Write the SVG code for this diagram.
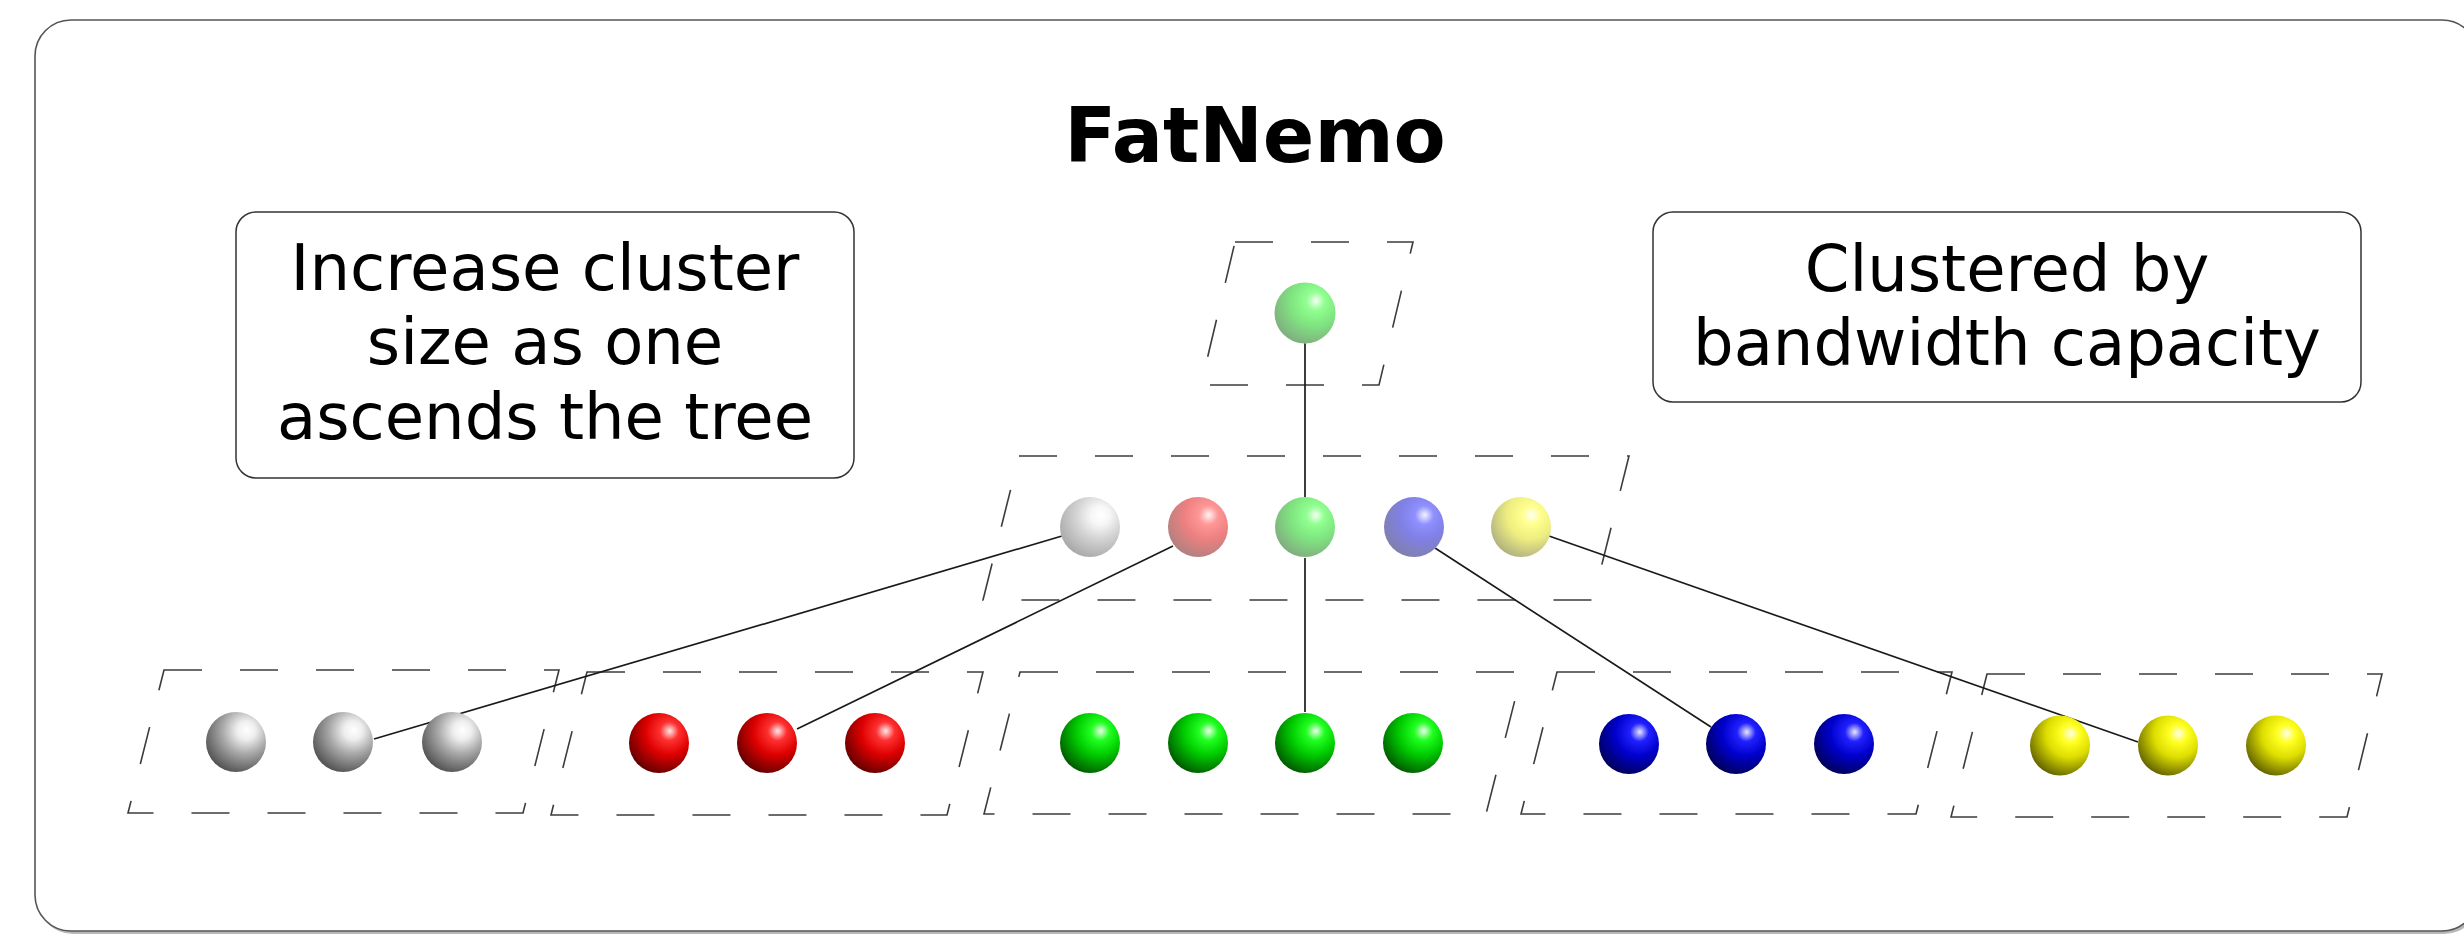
<svg xmlns="http://www.w3.org/2000/svg" width="2464" height="934" viewBox="0 0 2464 934">
  <style>
    .frame { fill: none; stroke: #3c3c3c; stroke-width: 1.6; stroke-dasharray: 38 38; }
    .link { fill: none; stroke: #1a1a1a; stroke-width: 1.7; }
    .box { fill: #fff; stroke: #333; stroke-width: 1.5; }
    .label { font-family: "DejaVu Sans", "Liberation Sans", sans-serif; font-size: 64px; fill: #000; text-anchor: middle; }
    .title { font-family: "DejaVu Sans", "Liberation Sans", sans-serif; font-size: 76px; font-weight: bold; fill: #000; text-anchor: middle; }
    .back { fill: #fff; }
    .soft { opacity: 0.5; }
  </style>
  <defs>
    <radialGradient id="gGray" cx="0.64" cy="0.32" r="0.78" fx="0.68" fy="0.3">
      <stop offset="0" stop-color="#ffffff"/>
      <stop offset="0.2" stop-color="#eeeeee"/>
      <stop offset="0.5" stop-color="#a8a8a8"/>
      <stop offset="1" stop-color="#444444"/>
    </radialGradient>
    <radialGradient id="gRed" cx="0.64" cy="0.32" r="0.78" fx="0.68" fy="0.3">
      <stop offset="0" stop-color="#ffe8e8"/>
      <stop offset="0.2" stop-color="#ff3030"/>
      <stop offset="0.5" stop-color="#dd0000"/>
      <stop offset="1" stop-color="#500000"/>
    </radialGradient>
    <radialGradient id="gGreen" cx="0.64" cy="0.32" r="0.78" fx="0.68" fy="0.3">
      <stop offset="0" stop-color="#e8ffe8"/>
      <stop offset="0.2" stop-color="#20ff20"/>
      <stop offset="0.5" stop-color="#00cc00"/>
      <stop offset="1" stop-color="#004800"/>
    </radialGradient>
    <radialGradient id="gBlue" cx="0.64" cy="0.32" r="0.78" fx="0.68" fy="0.3">
      <stop offset="0" stop-color="#e8e8ff"/>
      <stop offset="0.2" stop-color="#2020ff"/>
      <stop offset="0.5" stop-color="#0000cc"/>
      <stop offset="1" stop-color="#000048"/>
    </radialGradient>
    <radialGradient id="gYellow" cx="0.64" cy="0.32" r="0.78" fx="0.68" fy="0.3">
      <stop offset="0" stop-color="#ffffe8"/>
      <stop offset="0.2" stop-color="#ffff20"/>
      <stop offset="0.5" stop-color="#dddd00"/>
      <stop offset="1" stop-color="#505000"/>
    </radialGradient>
  </defs>

  <!-- outer panel with drop shadow -->
  <rect x="37" y="23" width="2443" height="911" rx="36" fill="#b8b8b8"/>
  <rect x="35" y="20" width="2443" height="911" rx="36" fill="#fff" stroke="#555" stroke-width="1.6"/>

  <g id="title">
    <text class="title" x="1255" y="162">FatNemo</text>
  </g>

  <!-- note boxes -->
  <g id="note-left">
    <rect class="box" x="236" y="212" width="618" height="266" rx="20"/>
    <text class="label" x="545" y="290">Increase cluster</text>
    <text class="label" x="545" y="364">size as one</text>
    <text class="label" x="545" y="439">ascends the tree</text>
  </g>
  <g id="note-right">
    <rect class="box" x="1653" y="212" width="708" height="190" rx="20"/>
    <text class="label" x="2007" y="291">Clustered by</text>
    <text class="label" x="2007" y="365">bandwidth capacity</text>
  </g>

  <!-- dashed cluster outlines -->
  <g id="clusters">
    <path id="cluster-root" class="frame" d="M1235,242 L1413,242 L1379,385 L1201,385 Z"/>
    <path id="cluster-mid" class="frame" d="M1019,456 L1629,456 L1593,600 L983,600 Z"/>
    <path id="cluster-gray" class="frame" d="M164,670 L559,670 L523,813 L128,813 Z"/>
    <path id="cluster-red" class="frame" d="M587,672 L983,672 L947,815 L551,815 Z"/>
    <path id="cluster-green" class="frame" d="M1020,672 L1522,672 L1486,814 L984,814 Z"/>
    <path id="cluster-blue" class="frame" d="M1557,672 L1952,672 L1916,814 L1521,814 Z"/>
    <path id="cluster-yellow" class="frame" d="M1987,674 L2382,674 L2347,817 L1951,817 Z"/>
  </g>

  <!-- tree links -->
  <g id="connectors">
    <line class="link" x1="1305" y1="343" x2="1305" y2="497"/>
    <line class="link" x1="1305" y1="558" x2="1305" y2="712"/>
    <line class="link" x1="1062" y1="536" x2="374" y2="739"/>
    <line class="link" x1="1173" y1="546" x2="797" y2="729"/>
    <line class="link" x1="1435" y1="548" x2="1711" y2="727"/>
    <line class="link" x1="1549" y1="536" x2="2138" y2="742"/>
  </g>

  <!-- root -->
  <g id="root">
    <circle class="back" cx="1305" cy="313" r="30.5"/>
    <circle class="soft" cx="1305" cy="313" r="30.5" fill="url(#gGreen)"/>
  </g>

  <!-- middle level -->
  <g id="mid-gray">
    <circle class="back" cx="1090" cy="527" r="30"/>
    <circle class="soft" cx="1090" cy="527" r="30" fill="url(#gGray)"/>
  </g>
  <g id="mid-red">
    <circle class="back" cx="1198" cy="527" r="30"/>
    <circle class="soft" cx="1198" cy="527" r="30" fill="url(#gRed)"/>
  </g>
  <g id="mid-green">
    <circle class="back" cx="1305" cy="527" r="30"/>
    <circle class="soft" cx="1305" cy="527" r="30" fill="url(#gGreen)"/>
  </g>
  <g id="mid-blue">
    <circle class="back" cx="1414" cy="527" r="30"/>
    <circle class="soft" cx="1414" cy="527" r="30" fill="url(#gBlue)"/>
  </g>
  <g id="mid-yellow">
    <circle class="back" cx="1521" cy="527" r="30"/>
    <circle class="soft" cx="1521" cy="527" r="30" fill="url(#gYellow)"/>
  </g>

  <!-- leaves -->
  <g id="leaf-gray-1"><circle cx="236" cy="742" r="30" fill="url(#gGray)"/></g>
  <g id="leaf-gray-2"><circle cx="343" cy="742" r="30" fill="url(#gGray)"/></g>
  <g id="leaf-gray-3"><circle cx="452" cy="742" r="30" fill="url(#gGray)"/></g>

  <g id="leaf-red-1"><circle cx="659" cy="743" r="30" fill="url(#gRed)"/></g>
  <g id="leaf-red-2"><circle cx="767" cy="743" r="30" fill="url(#gRed)"/></g>
  <g id="leaf-red-3"><circle cx="875" cy="743" r="30" fill="url(#gRed)"/></g>

  <g id="leaf-green-1"><circle cx="1090" cy="743" r="30" fill="url(#gGreen)"/></g>
  <g id="leaf-green-2"><circle cx="1198" cy="743" r="30" fill="url(#gGreen)"/></g>
  <g id="leaf-green-3"><circle cx="1305" cy="743" r="30" fill="url(#gGreen)"/></g>
  <g id="leaf-green-4"><circle cx="1413" cy="743" r="30" fill="url(#gGreen)"/></g>

  <g id="leaf-blue-1"><circle cx="1629" cy="744" r="30" fill="url(#gBlue)"/></g>
  <g id="leaf-blue-2"><circle cx="1736" cy="744" r="30" fill="url(#gBlue)"/></g>
  <g id="leaf-blue-3"><circle cx="1844" cy="744" r="30" fill="url(#gBlue)"/></g>

  <g id="leaf-yellow-1"><circle cx="2060" cy="745.5" r="30" fill="url(#gYellow)"/></g>
  <g id="leaf-yellow-2"><circle cx="2168" cy="745.5" r="30" fill="url(#gYellow)"/></g>
  <g id="leaf-yellow-3"><circle cx="2276" cy="745.5" r="30" fill="url(#gYellow)"/></g>
</svg>
